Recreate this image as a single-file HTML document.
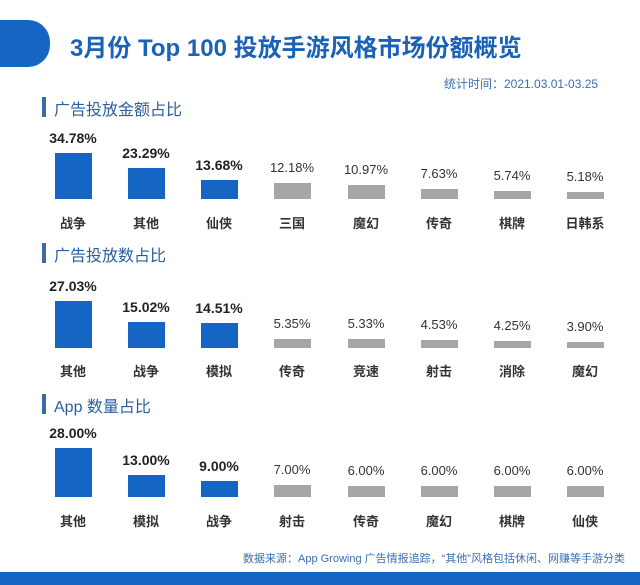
<!DOCTYPE html>
<html><head><meta charset="utf-8"><style>
body{margin:0;width:640px;height:585px;background:#fff;position:relative;overflow:hidden;font-family:"Liberation Sans","Noto Sans CJK SC",sans-serif}
.a{position:absolute}
.t{position:absolute;width:80px;text-align:center;font-size:13px;color:#333}
.b{font-weight:bold;color:#222}
.c{position:absolute;width:80px;text-align:center;font-size:13px;color:#333;font-weight:bold}
.bar{position:absolute;width:37px}
.h{position:absolute;font-size:16px;color:#2a5e9e;left:54px}
.hb{position:absolute;left:42px;width:4px;height:20px;background:#3d6aa6}
</style></head><body>
<div class="a" style="left:-20px;top:20px;width:70px;height:47px;background:#1566c4;border-radius:0 22px 22px 0"></div>
<div class="a" style="left:70px;top:28px;font-size:24px;font-weight:bold;color:#1a62b8">3月份 Top 100 投放手游风格市场份额概览</div>
<div class="a" style="left:444px;top:75px;font-size:12px;color:#3b6fae">统计时间：2021.03.01-03.25</div>
<div class="hb" style="top:97px"></div><div class="h" style="top:96px">广告投放金额占比</div>
<div class="hb" style="top:243px"></div><div class="h" style="top:242px">广告投放数占比</div>
<div class="hb" style="top:394px"></div><div class="h" style="top:393px">App 数量占比</div>
<div id="s"></div>
<div class="a" style="left:243px;top:550px;font-size:11px;color:#3b6fae">数据来源：App Growing 广告情报追踪，“其他”风格包括休闲、网赚等手游分类</div>
<div class="a" style="left:0;top:572px;width:640px;height:13px;background:#1566c4"></div>
<script>
var cx=[73,146,219,292,366,439,512,585];
var S=[
{bot:199,lab:213,d:[["34.78%","战争",46],["23.29%","其他",31],["13.68%","仙侠",19],["12.18%","三国",16],["10.97%","魔幻",14],["7.63%","传奇",10],["5.74%","棋牌",8],["5.18%","日韩系",7]]},
{bot:348,lab:361,d:[["27.03%","其他",47],["15.02%","战争",26],["14.51%","模拟",25],["5.35%","传奇",9],["5.33%","竞速",9],["4.53%","射击",8],["4.25%","消除",7],["3.90%","魔幻",6]]},
{bot:497,lab:511,d:[["28.00%","其他",49],["13.00%","模拟",22],["9.00%","战争",16],["7.00%","射击",12],["6.00%","传奇",11],["6.00%","魔幻",11],["6.00%","棋牌",11],["6.00%","仙侠",11]]}];
var h="";
S.forEach(function(s){s.d.forEach(function(d,i){var top=s.bot-d[2];var blue=i<3;
h+='<div class="bar" style="left:'+(cx[i]-18)+'px;top:'+top+'px;height:'+d[2]+'px;background:'+(blue?'#1566c4':'#a6a6a6')+'"></div>';
h+='<div class="t'+(blue?' b':'')+'" style="left:'+(cx[i]-40)+'px;top:'+(top-23)+'px;font-size:'+(blue?14:13)+'px">'+d[0]+'</div>';
h+='<div class="c" style="left:'+(cx[i]-40)+'px;top:'+s.lab+'px">'+d[1]+'</div>';});});
document.getElementById("s").innerHTML=h;
</script>
</body></html>
